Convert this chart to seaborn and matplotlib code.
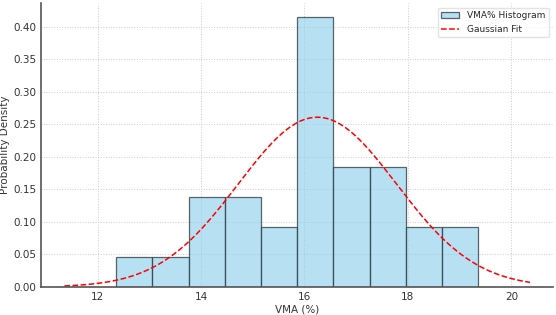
import matplotlib
matplotlib.use("Agg")
import matplotlib.pyplot as plt
import seaborn as sns
import numpy as np
import pandas as pd

# histogram: bin edges and counts (31 samples)
bin_edges = [12.36, 13.06, 13.76, 14.46, 15.16, 15.86, 16.56, 17.26, 17.96, 18.66, 19.36]
bin_counts = [1, 1, 3, 3, 2, 9, 4, 4, 2, 2]

# gaussian fit parameters
fit_mean = 16.25
fit_std = 1.53

bin_centers = [(a + b) / 2 for a, b in zip(bin_edges[:-1], bin_edges[1:])]
hist_df = pd.DataFrame({'vma': bin_centers, 'count': bin_counts})

sns.set_style('white')
plt.rcParams['font.family'] = ['DejaVu Sans']

fig, ax = plt.subplots(figsize=(5.56, 3.15), dpi=100)
fig.subplots_adjust(left=0.074, right=0.995, bottom=0.089, top=0.99)

sns.histplot(data=hist_df, x='vma', weights='count', bins=bin_edges, stat='density',
             color='skyblue', alpha=0.6, edgecolor=(0.2, 0.25, 0.28, 0.8), linewidth=0.9,
             label='VMA% Histogram', ax=ax)

xs = np.linspace(bin_edges[0] - 1, bin_edges[-1] + 1, 200)
pdf = np.exp(-0.5 * ((xs - fit_mean) / fit_std) ** 2) / (fit_std * np.sqrt(2 * np.pi))
sns.lineplot(x=xs, y=pdf, color='red', linestyle='--', linewidth=1.1, label='Gaussian Fit', ax=ax)

ax.set_xlabel('VMA (%)', fontsize=7.5, color='#333333', labelpad=2)
ax.set_ylabel('Probability Density', fontsize=7.5, color='#333333', labelpad=2)
ax.tick_params(labelsize=7.5, colors='#333333', length=2, pad=1.5)
ax.set_xticks([12, 14, 16, 18, 20])
ax.set_yticks(np.arange(0, 0.41, 0.05))
ax.yaxis.set_major_formatter(matplotlib.ticker.FormatStrFormatter('%.2f'))
ax.set_xlim(10.91, 20.81)
ax.set_ylim(0, 0.436)
ax.grid(True, linestyle=':', color='#cccccc', linewidth=0.7)
ax.set_axisbelow(True)
sns.despine(ax=ax)
for s in ['left', 'bottom']:
    ax.spines[s].set_color('#555555')
    ax.spines[s].set_linewidth(1.2)

handles, labels = ax.get_legend_handles_labels()
order = [labels.index('VMA% Histogram'), labels.index('Gaussian Fit')]
ax.legend([handles[i] for i in order], [labels[i] for i in order],
          loc='upper right', fontsize=6.5, frameon=True, edgecolor='#dddddd')

fig.savefig('out.png', dpi=100)
